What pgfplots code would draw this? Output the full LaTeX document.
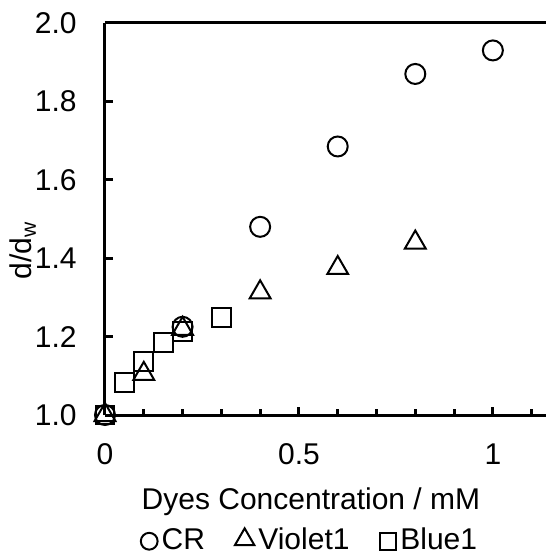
\documentclass[border=0pt]{standalone}
\usepackage{fontspec}
\setmainfont{Liberation Sans}
\usepackage{pgfplots}
\pgfplotsset{compat=1.18}
\newcommand{\myfont}{\fontsize{15}{18}\selectfont}
\begin{document}
\myfont
\begin{tikzpicture}
\begin{axis}[
  at={(0,0)}, anchor=south west,
  scale only axis, width=220.5pt, height=196pt,
  xmin=0, xmax=1.137, ymin=1, ymax=2,
  axis x line*=box, axis y line*=left,
  axis line style={-, line width=1.5pt},
  xtick pos=bottom, ytick pos=left,
  tick align=inside,
  every tick/.style={black, line width=1.5pt},
  major tick length=4pt, minor tick length=3pt,
  xtick={0,0.5,1}, minor xtick={0.1,0.2,0.3,0.4,0.6,0.7,0.8,0.9,1.1},
  xticklabels={0,0.5,1},
  ytick={1,1.2,1.4,1.6,1.8,2.0},
  yticklabels={1.0,1.2,1.4,1.6,1.8,2.0},
  /pgf/number format/assume math mode=true,
  every tick label/.append style={font=\myfont},
  xticklabel style={yshift=-9pt},
  yticklabel style={xshift=-9pt},
  clip=false,
  xlabel={Dyes Concentration / mM},
  xlabel style={at={(axis description cs:0.467,-0.222)}, anchor=center, font=\myfont},
  ylabel={d/d\textsubscript{w}},
  ylabel style={at={(axis description cs:-0.186,0.42)}, anchor=center, font=\myfont},
  legend columns=3,
  legend style={draw=none, fill=none, at={(0.467,-0.322)}, anchor=center,
    font=\myfont,
    /tikz/every even column/.append style={column sep=13pt},
    /tikz/every odd column/.append style={column sep=0pt},
    inner sep=0pt},
]
\addplot[only marks, mark=o, mark size=5pt, mark options={line width=1pt, black},
  legend image code/.code={\draw[mark size=4.2pt] plot coordinates {(0.15cm,0cm)};}]
  coordinates {(0,1.0) (0.2,1.225) (0.4,1.48) (0.6,1.685) (0.8,1.87) (1.0,1.93)};
\addlegendentry{CR}
\addplot[only marks, mark=triangle, mark size=6pt, mark options={line width=1pt, black},
  legend image code/.code={\draw[mark size=5.6pt] plot coordinates {(0.18cm,0.03cm)};}]
  coordinates {(0,1.0) (0.1,1.105) (0.2,1.22) (0.4,1.313) (0.6,1.375) (0.8,1.44)};
\addlegendentry{Violet1}
\addplot[only marks, mark=square, mark size=4.7pt, mark options={line width=1pt, black},
  legend image code/.code={\draw[mark size=4.2pt] plot coordinates {(0.15cm,0cm)};}]
  coordinates {(0,1.0) (0.05,1.082) (0.1,1.136) (0.15,1.184) (0.2,1.213) (0.3,1.248)};
\addlegendentry{Blue1}
\end{axis}
\pgfresetboundingbox
\useasboundingbox (-52.5pt,-70pt) rectangle (220.5pt,207.5pt);
\end{tikzpicture}
\end{document}
